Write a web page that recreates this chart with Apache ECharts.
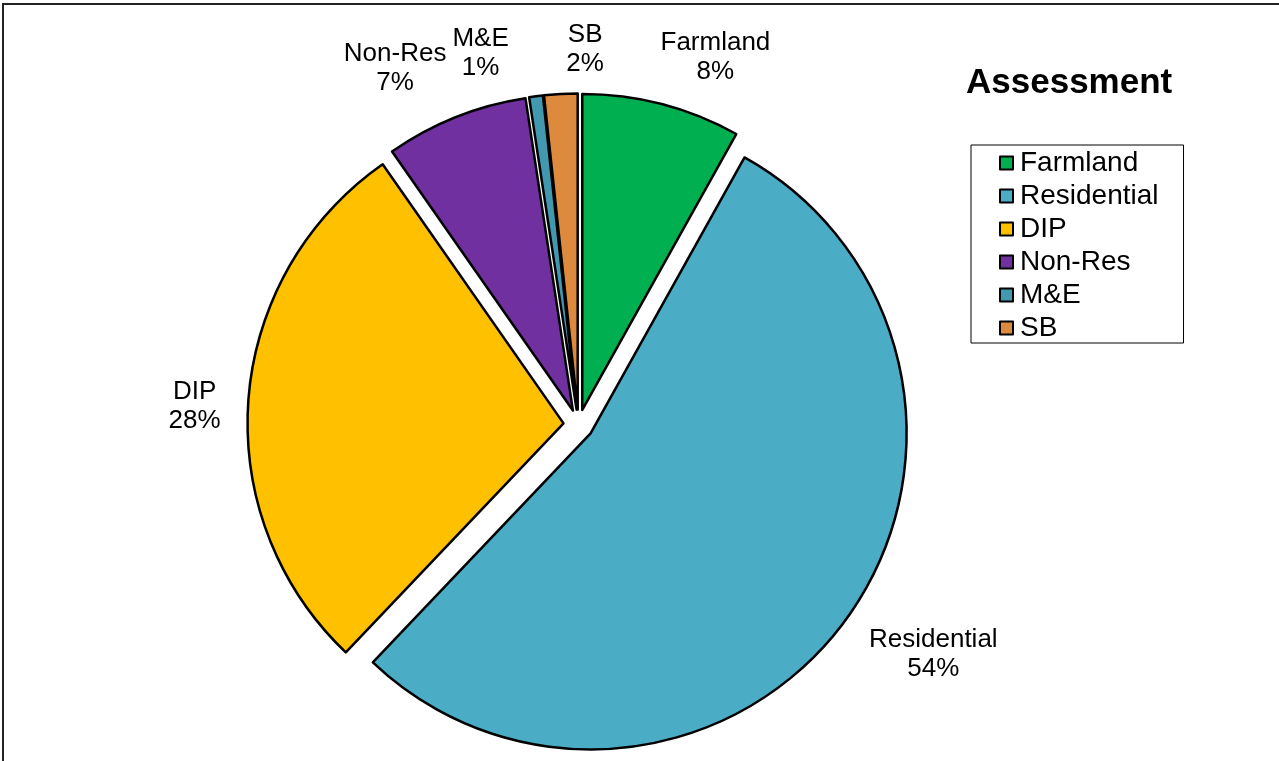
<!DOCTYPE html>
<html><head><meta charset="utf-8">
<script src="https://cdn.jsdelivr.net/npm/echarts@6/dist/echarts.min.js"></script>
<style>html,body{margin:0;padding:0;background:#fff}#c{width:1279px;height:761px}</style>
</head><body><div id="c"></div>
<script>
// ---- data ----
const categories = ['Farmland', 'Residential', 'DIP', 'Non-Res', 'M&E', 'SB'];
const values = [8.1, 54.0, 28.2, 7.3, 0.7, 1.7];
const titleText = 'Assessment';

// ---- style / layout ----
const colors = ['#00B050', '#4BACC6', '#FFC000', '#7030A0', '#4198AF', '#DD8A3E'];
const labelNudge = [[41, 2], [48, 4], [-4, 11], [-42, -2], [-49, 7], [27, 5]];
const CX = 578.5, CY = 424.5, R = 316, OFFSET = 15, LABEL_GAP = 50;
const FONT = "'Liberation Sans', Arial, sans-serif";

const total = values.reduce((a, b) => a + b, 0);
const mids = [];
let acc = 0;
values.forEach(v => { mids.push((acc + v / 2) / total * 2 * Math.PI); acc += v; });

// data labels (category + percentage) placed outside each exploded slice
const labelGraphics = categories.map((name, i) => {
  const a = mids[i];
  const sx = Math.sin(a), sy = -Math.cos(a);
  const ox = CX + OFFSET * sx, oy = CY + OFFSET * sy;
  const pct = Math.round(values[i] / total * 100);
  return {
    type: 'text', silent: true, z: 10,
    x: ox + (R + LABEL_GAP) * sx + labelNudge[i][0],
    y: oy + (R + LABEL_GAP) * sy + labelNudge[i][1],
    style: {
      text: name + '\n' + pct + '%',
      font: '26px ' + FONT, fill: '#000', lineHeight: 29,
      align: 'center', verticalAlign: 'middle'
    }
  };
});

const chart = echarts.init(document.getElementById('c'), null, {renderer: 'canvas'});
chart.setOption({
  animation: false,
  backgroundColor: '#fff',
  color: colors,
  title: {
    text: titleText, left: 966, top: 66, padding: 0,
    textStyle: {fontFamily: FONT, fontSize: 35, fontWeight: 'bold', color: '#000'}
  },
  legend: {
    orient: 'vertical', left: 971, top: 145, padding: [3, 25, 0, 28],
    itemGap: 3, itemWidth: 13, itemHeight: 13, icon: 'rect',
    borderColor: '#000', borderWidth: 1,
    itemStyle: {borderColor: '#000', borderWidth: 2},
    textStyle: {fontFamily: FONT, fontSize: 28, lineHeight: 30, color: '#000', padding: [0, 0, 0, 2]},
    data: categories
  },
  graphic: [{
    type: 'rect', silent: true,
    shape: {x: 3, y: 4, width: 1400, height: 900},
    style: {fill: 'none', stroke: '#222', lineWidth: 2}
  }].concat(labelGraphics),
  series: [{
    type: 'pie',
    center: [CX, CY], radius: R,
    startAngle: 90, clockwise: true,
    selectedMode: 'multiple', selectedOffset: OFFSET,
    avoidLabelOverlap: false,
    itemStyle: {borderColor: '#000', borderWidth: 2.5},
    select: {itemStyle: {borderColor: '#000', borderWidth: 2.5}},
    emphasis: {disabled: true, scale: false},
    label: {show: false},
    labelLine: {show: false},
    data: categories.map((n, i) => ({name: n, value: values[i], selected: true}))
  }]
});
</script>
</body></html>
